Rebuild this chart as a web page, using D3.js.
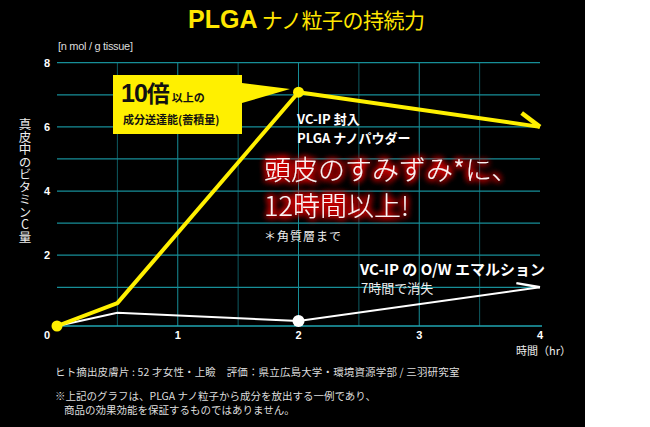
<!DOCTYPE html>
<html>
<head>
<meta charset="utf-8">
<script src="https://cdn.jsdelivr.net/npm/d3@7"></script>
<style>
  html, body { margin: 0; padding: 0; background: #fff; }
  svg { display: block; }
  text { font-family: "Noto Sans CJK JP", "Noto Sans", sans-serif; }
</style>
</head>
<body>
<svg id="chart" width="650" height="427"></svg>
<script>
// time points (hr) and vitamin C amount in dermis [n mol / g tissue]
var hours = [0, 0.5, 2, 4];
var plgaValues = [0, 0.59, 7.08, 6.0];
var emulsionValues = [0, 0.34, 0.13, 1.0];
var plgaMarkerIdx = [0, 2];
var emulsionMarkerIdx = [2];
var xTicks = [0, 1, 2, 3, 4];
var yTicks = [2, 4, 6, 8];
var xGrid = [0.5, 1, 1.5, 2, 2.5, 3, 3.5];
var yGrid = [1, 2, 3, 4, 5, 6, 7, 8];

var svg = d3.select('#chart');

// black panel
svg.append('rect').attr('width', 585).attr('height', 427).attr('fill', '#000');

var defs = svg.append('defs');
var glow = defs.append('filter').attr('id', 'glow')
    .attr('x', '-20%').attr('y', '-60%').attr('width', '140%').attr('height', '220%');
glow.append('feGaussianBlur').attr('in', 'SourceAlpha').attr('stdDeviation', 3.5).attr('result', 'b');
glow.append('feFlood').attr('flood-color', '#ff0000');
glow.append('feComposite').attr('in2', 'b').attr('operator', 'in').attr('result', 'g');
var merge = glow.append('feMerge');
merge.append('feMergeNode').attr('in', 'g');
merge.append('feMergeNode').attr('in', 'g');
merge.append('feMergeNode').attr('in', 'g');
merge.append('feMergeNode').attr('in', 'g');
merge.append('feMergeNode').attr('in', 'SourceGraphic');

// scales
var x = d3.scaleLinear().domain([0, 4]).range([57, 540]);
var y = d3.scaleLinear().domain([0, 1, 8]).range([326, 287.3, 62.7]);

// grid
svg.append('g').selectAll('line').data(xGrid).join('line')
    .attr('x1', d => x(d)).attr('x2', d => x(d))
    .attr('y1', y(8)).attr('y2', y(0))
    .attr('stroke', d => d % 1 === 0 ? '#178e98' : '#0e5a61')
    .attr('stroke-width', 1);
svg.append('g').selectAll('line').data(yGrid).join('line')
    .attr('x1', x(0)).attr('x2', x(4))
    .attr('y1', d => y(d)).attr('y2', d => y(d))
    .attr('stroke', '#178e98').attr('stroke-width', 1.3);
svg.append('line')
    .attr('x1', x(0)).attr('x2', x(4) + 2)
    .attr('y1', y(0)).attr('y2', y(0))
    .attr('stroke', '#1fa5b0').attr('stroke-width', 1.5);

// axis tick labels
svg.append('g').selectAll('text').data(yTicks).join('text')
    .attr('x', 47).attr('y', d => y(d) + 4)
    .attr('text-anchor', 'middle')
    .attr('fill', '#fff').attr('font-size', 11).attr('font-weight', 'bold')
    .style('font-family', 'Liberation Sans, Arial, sans-serif')
    .text(d => d);
svg.append('g').selectAll('text').data(xTicks).join('text')
    .attr('x', d => d === 0 ? x(d) - 10 : x(d)).attr('y', 339)
    .attr('text-anchor', 'middle')
    .attr('fill', '#fff').attr('font-size', 11).attr('font-weight', 'bold')
    .style('font-family', 'Liberation Sans, Arial, sans-serif')
    .text(d => d);

// lines
var line = d3.line().x(d => x(d[0])).y(d => y(d[1]));
var emulsion = hours.map((h, i) => [h, emulsionValues[i]]);
var plga = hours.map((h, i) => [h, plgaValues[i]]);

// one-sided arrow barb at the end of a series
function barbPath(data, len, angleDeg) {
    var n = data.length;
    var ax = x(data[n - 2][0]), ay = y(data[n - 2][1]);
    var bx = x(data[n - 1][0]), by = y(data[n - 1][1]);
    var t = Math.atan2(by - ay, bx - ax) + Math.PI + angleDeg * Math.PI / 180;
    return [[bx + len * Math.cos(t), by + len * Math.sin(t)], [bx, by]];
}

svg.append('path').datum(emulsion)
    .attr('d', line).attr('fill', 'none')
    .attr('stroke', '#fff').attr('stroke-width', 2);
svg.append('path').datum(plga)
    .attr('d', line).attr('fill', 'none')
    .attr('stroke', '#fff000').attr('stroke-width', 4)
    .attr('stroke-linejoin', 'round');

var barbW = barbPath(emulsion, 24, 18);
var barbY = barbPath(plga, 23, 29);
svg.append('line')
    .attr('x1', barbW[0][0]).attr('y1', barbW[0][1])
    .attr('x2', barbW[1][0]).attr('y2', barbW[1][1])
    .attr('stroke', '#fff').attr('stroke-width', 2.5);
svg.append('line')
    .attr('x1', barbY[0][0]).attr('y1', barbY[0][1])
    .attr('x2', barbY[1][0]).attr('y2', barbY[1][1])
    .attr('stroke', '#fff000').attr('stroke-width', 4.5);

svg.append('g').selectAll('circle').data(emulsionMarkerIdx).join('circle')
    .attr('cx', i => x(hours[i])).attr('cy', i => y(emulsionValues[i]))
    .attr('r', 6).attr('fill', '#fff');
svg.append('g').selectAll('circle').data(plgaMarkerIdx).join('circle')
    .attr('cx', i => x(hours[i])).attr('cy', i => y(plgaValues[i]))
    .attr('r', 5.5).attr('fill', '#fff000');

// title
var title = svg.append('text').attr('x', 188).attr('y', 28).attr('fill', '#ffe600');
title.append('tspan').text('PLGA')
    .attr('font-size', 25).attr('font-weight', 'bold')
    .style('font-family', '"Liberation Sans Narrow", "Liberation Sans", sans-serif');
title.append('tspan').text(' ナノ粒子の持続力')
    .attr('font-size', 21).attr('letter-spacing', -0.5);

// unit + axis titles
svg.append('text').attr('x', 58).attr('y', 50)
    .attr('fill', '#ddd').attr('font-size', 11).attr('letter-spacing', -0.3)
    .style('font-family', '"Liberation Sans Narrow", "Liberation Sans", sans-serif')
    .text('[n mol / g tissue]');
svg.append('text').attr('x', 25).attr('y', 118)
    .attr('fill', '#eee').attr('font-size', 12.5)
    .style('writing-mode', 'vertical-rl').style('text-orientation', 'upright')
    .text('真皮中のビタミンC量');
svg.append('text').attr('x', 516).attr('y', 355)
    .attr('fill', '#eee').attr('font-size', 11)
    .text('時間（hr）');

// callout box
var callout = svg.append('g');
callout.append('path')
    .attr('d', d3.line()([[113, 75], [242, 75], [242, 83], [290, 89], [242, 103], [242, 134], [113, 134]]) + 'Z')
    .attr('fill', '#fff000');
var c1 = callout.append('text').attr('x', 121).attr('y', 102).attr('fill', '#111').attr('font-weight', 'bold');
c1.append('tspan').text('10').attr('font-size', 25).attr('letter-spacing', -1)
    .style('font-family', '"Liberation Sans", Arial, sans-serif');
c1.append('tspan').text('倍').attr('font-size', 23);
c1.append('tspan').text('以上の').attr('font-size', 11).attr('dx', 2);
callout.append('text').attr('x', 123).attr('y', 124)
    .attr('fill', '#111').attr('font-weight', 'bold').attr('font-size', 11)
    .text('成分送達能(蓄積量)');

// annotations
svg.append('text').attr('x', 297).attr('y', 124)
    .attr('fill', '#fff').attr('font-weight', 'bold').attr('font-size', 13)
    .text('VC-IP 封入');
svg.append('text').attr('x', 297).attr('y', 143)
    .attr('fill', '#fff').attr('font-weight', 'bold').attr('font-size', 13)
    .text('PLGA ナノパウダー');

var red = svg.append('g').attr('filter', 'url(#glow)')
    .attr('fill', '#fff2f2').attr('font-size', 27).attr('font-weight', 300);
red.append('text').attr('x', 264).attr('y', 180).text('頭皮のすみずみ*に、');
red.append('text').attr('x', 264).attr('y', 216).text('12時間以上!');

svg.append('text').attr('x', 264).attr('y', 241)
    .attr('fill', '#eee').attr('font-size', 12).attr('letter-spacing', 1)
    .text('＊角質層まで');

svg.append('text').attr('x', 360).attr('y', 275)
    .attr('fill', '#fff').attr('font-weight', 'bold').attr('font-size', 15)
    .text('VC-IP の O/W エマルション');
svg.append('text').attr('x', 361).attr('y', 293)
    .attr('fill', '#eee').attr('font-size', 13)
    .text('7時間で消失');

// footnotes
var notes = svg.append('g').attr('fill', '#ddd').attr('font-size', 10.5);
notes.append('text').attr('x', 55).attr('y', 376).attr('letter-spacing', 0.15)
    .text('ヒト摘出皮膚片 : 52 才女性・上瞼　評価：県立広島大学・環境資源学部 / 三羽研究室');
notes.append('text').attr('x', 55).attr('y', 400)
    .text('※上記のグラフは、PLGA ナノ粒子から成分を放出する一例であり、');
notes.append('text').attr('x', 64).attr('y', 413.5)
    .text('商品の効果効能を保証するものではありません。');
</script>
</body>
</html>
